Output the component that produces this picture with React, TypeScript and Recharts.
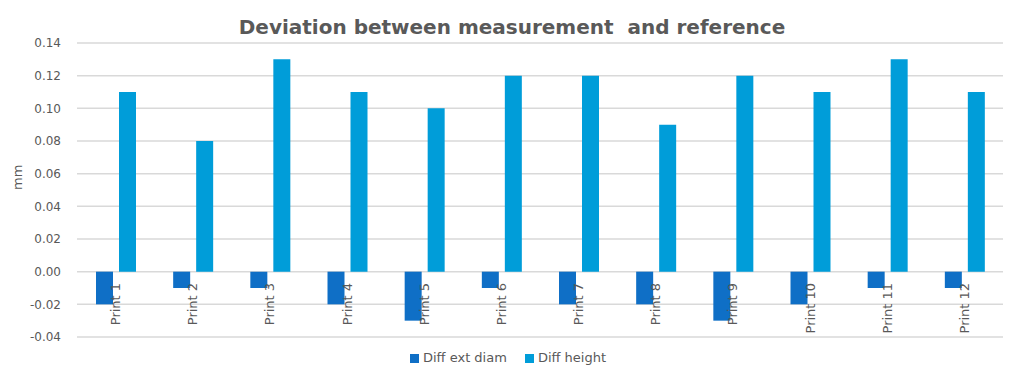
import React from "react";
import { BarChart, Bar, XAxis, YAxis, CartesianGrid, Legend } from "recharts";

const categories = ["Print 1", "Print 2", "Print 3", "Print 4", "Print 5", "Print 6", "Print 7", "Print 8", "Print 9", "Print 10", "Print 11", "Print 12"];
const diffExtDiam = [-0.02, -0.01, -0.01, -0.02, -0.03, -0.01, -0.02, -0.02, -0.03, -0.02, -0.01, -0.01];
const diffHeight = [0.11, 0.08, 0.13, 0.11, 0.1, 0.12, 0.12, 0.09, 0.12, 0.11, 0.13, 0.11];
const yTicks = [-0.04, -0.02, 0, 0.02, 0.04, 0.06, 0.08, 0.1, 0.12, 0.14];

const data = categories.map((name, i) => ({ name, ext: diffExtDiam[i], height: diffHeight[i] }));

const W = 1024;
const H = 382;
const M = { top: 43, right: 21, bottom: 26, left: 19 };
const Y_MIN = -0.04;
const Y_MAX = 0.14;
const FONT = "DejaVu Sans, sans-serif";
const GREY = "#595959";

const PLOT_H = 336 - 43;
const ZERO_OFFSET = ((0 - Y_MIN) / (Y_MAX - Y_MIN)) * PLOT_H;

const renderXTick = (props: any) => {
  const { x, y, payload } = props;
  const ty = y - ZERO_OFFSET + 3;
  return (
    <text
      key={`xt-${payload.value}`}
      x={x}
      y={ty}
      transform={`rotate(-90 ${x} ${ty})`}
      textAnchor="end"
      dominantBaseline="central"
      fill={GREY}
      fontSize={13}
      fontFamily={FONT}
    >
      {payload.value}
    </text>
  );
};

export default function App() {
  return (
    <div style={{ margin: -8, width: W, height: H, position: "relative", background: "#fff" }}>
      <div
        style={{
          position: "absolute",
          inset: 0,
          border: "2px solid #D9D9D9",
          boxSizing: "border-box",
          pointerEvents: "none",
        }}
      />
      <div
        style={{
          position: "absolute",
          top: 15,
          left: 0,
          width: W,
          textAlign: "center",
          fontFamily: FONT,
          fontWeight: 700,
          fontSize: 20,
          color: GREY,
          whiteSpace: "pre",
        }}
      >
        Deviation between measurement  and reference
      </div>
      <BarChart width={W} height={H} data={data} margin={M} barSize={17} barGap={6}>
        <CartesianGrid vertical={false} stroke="#D9D9D9" strokeWidth={1.5} />
        <XAxis
          dataKey="name"
          axisLine={false}
          tickLine={false}
          height={1}
          interval={0}
          tick={renderXTick}
        />
        <YAxis
          domain={[Y_MIN, Y_MAX]}
          ticks={yTicks}
          interval={0}
          axisLine={false}
          tickLine={false}
          width={58}
          tickMargin={10}
          tickFormatter={(v: number) => v.toFixed(2)}
          tick={{ fill: GREY, fontSize: 12, fontFamily: FONT }}
          label={{ value: "mm", angle: -90, position: "insideLeft", offset: 0, fill: GREY, fontSize: 13, fontFamily: FONT, dx: -2 }}
        />
        <Legend
          verticalAlign="bottom"
          iconType="square"
          iconSize={9}
          formatter={(v: string) => (
            <span style={{ color: GREY, fontSize: 13, fontFamily: FONT, marginRight: 8 }}>{v}</span>
          )}
          wrapperStyle={{ bottom: 16, left: 25 }}
        />
        <Bar dataKey="ext" name="Diff ext diam" fill="#0F6FC6" isAnimationActive={false} />
        <Bar dataKey="height" name="Diff height" fill="#009DD9" isAnimationActive={false} />
      </BarChart>
    </div>
  );
}
